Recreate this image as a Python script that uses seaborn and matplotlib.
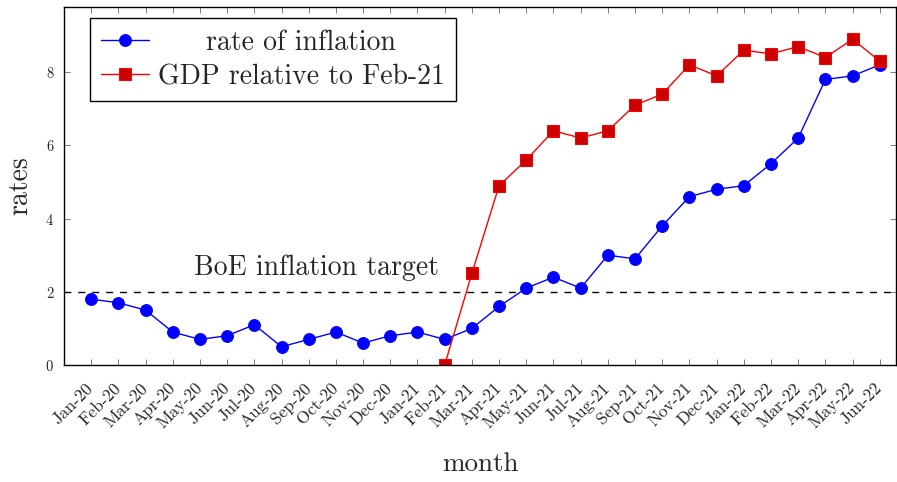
import matplotlib
matplotlib.use("Agg")
import matplotlib.pyplot as plt
import pandas as pd
import seaborn as sns

# monthly labels, Jan-20 .. Jun-22
months = ["Jan-20", "Feb-20", "Mar-20", "Apr-20", "May-20", "Jun-20", "Jul-20", "Aug-20",
          "Sep-20", "Oct-20", "Nov-20", "Dec-20", "Jan-21", "Feb-21", "Mar-21", "Apr-21",
          "May-21", "Jun-21", "Jul-21", "Aug-21", "Sep-21", "Oct-21", "Nov-21", "Dec-21",
          "Jan-22", "Feb-22", "Mar-22", "Apr-22", "May-22", "Jun-22"]

inflation = [1.8, 1.7, 1.5, 0.9, 0.7, 0.8, 1.1, 0.5, 0.7, 0.9, 0.6, 0.8, 0.9, 0.7, 1.0,
             1.6, 2.1, 2.4, 2.1, 3.0, 2.9, 3.8, 4.6, 4.8, 4.9, 5.5, 6.2, 7.8, 7.9, 8.2]

# GDP series starts at Feb-21
gdp_months = months[13:]
gdp = [0.0, 2.5, 4.9, 5.6, 6.4, 6.2, 6.4, 7.1, 7.4, 8.2, 7.9, 8.6, 8.5, 8.7, 8.4, 8.9, 8.3]

boe_target = 2

df_inf = pd.DataFrame({"idx": range(len(months)), "rate": inflation})
df_gdp = pd.DataFrame({"idx": [months.index(m) for m in gdp_months], "rate": gdp})

sns.set_style("ticks")
plt.rcParams["font.family"] = ["cmr10", "DejaVu Serif"]
plt.rcParams["mathtext.fontset"] = "cm"
plt.rcParams["axes.formatter.use_mathtext"] = True

fig = plt.figure(figsize=(8.97, 4.82), dpi=100)
ax = fig.add_axes([0.0713, 0.2427, 0.9277, 0.7428])

sns.lineplot(data=df_inf, x="idx", y="rate", ax=ax, color="#0000ff", lw=1,
             marker="o", markersize=8.5, markerfacecolor="#0000ff",
             markeredgecolor="#0000ff", label="rate of inflation")
sns.lineplot(data=df_gdp, x="idx", y="rate", ax=ax, color="#ff0000", lw=1,
             marker="s", markersize=8.5, markerfacecolor="#cc0000",
             markeredgecolor="#ff0000", label="GDP relative to Feb-21")

ax.axhline(boe_target, color="black", lw=1, ls=(0, (5, 5)), zorder=1)
ax.text(8.27, boe_target + 0.45, "BoE inflation target", fontsize=20,
        ha="center", va="baseline")

ax.set_xlim(-1, 29.6)
ax.set_ylim(0, 9.78)
ax.set_xticks(range(len(months)))
ax.set_xticklabels(months, rotation=45, ha="right", va="center",
                   rotation_mode="anchor", fontsize=12.5)
ax.set_yticks([0, 2, 4, 6, 8])
ax.tick_params(axis="x", pad=15)
ax.tick_params(axis="y", labelsize=10.5, pad=7)
ax.tick_params(direction="in", length=4.5, width=0.6, color="#666666",
               top=True, right=True)
for s in ax.spines.values():
    s.set_linewidth(1)
    s.set_color("black")

ax.set_xlabel("month", fontsize=19.5, labelpad=15)
ax.set_ylabel("rates", fontsize=20, labelpad=9)

leg = ax.legend(loc="upper left", bbox_to_anchor=(0.031, 0.969), fontsize=20,
                frameon=True, fancybox=False, edgecolor="black", framealpha=1,
                borderaxespad=0, handlelength=1.75, borderpad=0.4,
                labelspacing=0.3, handletextpad=0.3)
leg.get_frame().set_linewidth(1)

# centre the legend labels like the original
fig.canvas.draw()
rend = fig.canvas.get_renderer()
texts = leg.get_texts()
widths = [t.get_window_extent(rend).width for t in texts]
for t, w in zip(texts, widths):
    t.set_position(((max(widths) - w) / 2, 0))

fig.savefig("out.png", dpi=100)
